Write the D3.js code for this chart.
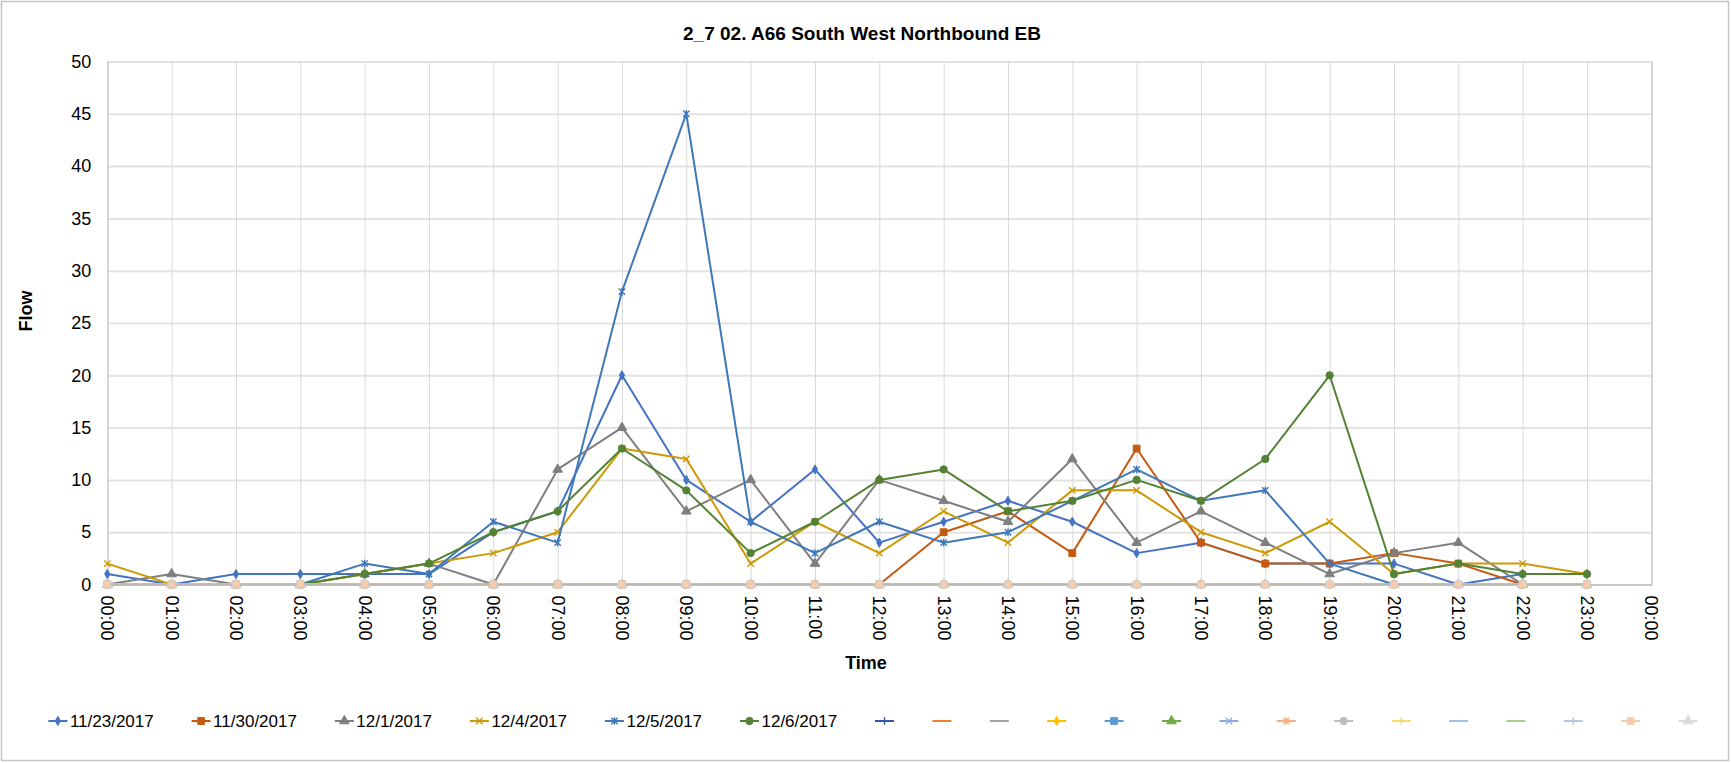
<!DOCTYPE html>
<html><head><meta charset="utf-8">
<script src="https://cdn.jsdelivr.net/npm/d3@7"></script>
<style>
html,body{margin:0;padding:0;background:#fff;}
svg{display:block;font-family:"Liberation Sans",Arial,sans-serif;}
</style></head><body>
<svg id="chart" width="1731" height="763"></svg>
<script>
// ---------- DATA ----------
const chartTitle = "2_7 02. A66 South West Northbound EB";
const categories = ["00:00","01:00","02:00","03:00","04:00","05:00","06:00","07:00","08:00","09:00","10:00","11:00",
                    "12:00","13:00","14:00","15:00","16:00","17:00","18:00","19:00","20:00","21:00","22:00","23:00"];
const xTickLabels = ["00:00","01:00","02:00","03:00","04:00","05:00","06:00","07:00","08:00","09:00","10:00","11:00",
                     "12:00","13:00","14:00","15:00","16:00","17:00","18:00","19:00","20:00","21:00","22:00","23:00","00:00"];
const yTicks = [0,5,10,15,20,25,30,35,40,45,50];

const seriesNames = ["11/23/2017","11/30/2017","12/1/2017","12/4/2017","12/5/2017","12/6/2017"];
const flow_11_23 = [1,0,1,1,1,1,5,7,20,10,6,11,4,6,8,6,3,4,2,2,2,0,1,1];
const flow_11_30 = [0,0,0,0,0,0,0,0,0,0,0,0,0,5,7,3,13,4,2,2,3,2,0,0];
const flow_12_01 = [0,1,0,0,1,2,0,11,15,7,10,2,10,8,6,12,4,7,4,1,3,4,0,0];
const flow_12_04 = [2,0,0,0,1,2,3,5,13,12,2,6,3,7,4,9,9,5,3,6,1,2,2,1];
const flow_12_05 = [0,0,0,0,2,1,6,4,28,45,6,3,6,4,5,8,11,8,9,2,0,0,0,0];
const flow_12_06 = [0,0,0,0,1,2,5,7,13,9,3,6,10,11,7,8,10,8,12,20,1,2,1,1];
// 15 unnamed series, all flat at zero
const unnamedFlow = [0,0,0,0,0,0,0,0,0,0,0,0,0,0,0,0,0,0,0,0,0,0,0,0];
const unnamedCount = 15;

// ---------- STYLES ----------
const namedColors  = ["#4472C4","#C55A11","#7F7F7F","#CC9A06","#3F78B8","#548235"];
const namedMarkers = ["diamond","square","triangle","x","star","circle"];
const unnamedColors  = ["#3556A8","#ED7D31","#A5A5A5","#FFC000","#5B9BD5","#70AD47","#8FAADC","#F4B183",
                        "#BDBDBD","#FFD966","#9DC3E6","#A9D18E","#B4C7E7","#F8CBAD","#D9D9D9"];
const unnamedMarkers = ["plus","dash","dash","diamond","square","triangle","x","star",
                        "circle","plus","dash","dash","plus","square","triangle"];

const values = [flow_11_23, flow_11_30, flow_12_01, flow_12_04, flow_12_05, flow_12_06];
const series = [];
seriesNames.forEach((n,i)=>series.push({name:n, values:values[i], color:namedColors[i], marker:namedMarkers[i]}));
for (let i=0;i<unnamedCount;i++) series.push({name:"", values:unnamedFlow, color:unnamedColors[i], marker:unnamedMarkers[i]});

// ---------- LAYOUT ----------
const svg = d3.select("#chart");
const W = 1731, H = 763;
const x = d3.scaleLinear().domain([0,24]).range([107.3,1651.3]);
const y = d3.scaleLinear().domain([0,50]).range([584.5,61.5]);

svg.append("rect").attr("x",1.5).attr("y",1.5).attr("width",W-4).attr("height",H-4)
  .attr("fill","#fff").attr("stroke","#C4C4C4").attr("stroke-width",1.5);

// title
svg.append("text").attr("x",862).attr("y",39.5).attr("text-anchor","middle")
  .attr("font-size",19).attr("font-weight","bold").attr("fill","#000").text(chartTitle);

// y axis + horizontal grid
const gy = svg.append("g").attr("transform",`translate(${x(0)},0)`)
  .call(d3.axisLeft(y).tickValues(yTicks).tickSize(-(x(24)-x(0))).tickPadding(16).tickFormat(d=>d));
gy.select(".domain").remove();
gy.selectAll(".tick line").attr("stroke","#E3E3E3").attr("stroke-width",2);
gy.selectAll(".tick text").attr("font-size",18).attr("fill","#000")
  .attr("font-family","'Liberation Sans',Arial,sans-serif");

// x axis + vertical grid
const gx = svg.append("g").attr("transform",`translate(0,${y(0)})`)
  .call(d3.axisBottom(x).tickValues(d3.range(25)).tickSize(-(y(0)-y(50))).tickFormat(i=>xTickLabels[i]));
gx.select(".domain").attr("stroke","#BFBFBF").attr("stroke-width",1.5);
gx.selectAll(".tick line").attr("stroke","#D9D9D9").attr("stroke-width",1);
gx.selectAll(".tick text").attr("font-size",18).attr("fill","#000")
  .attr("font-family","'Liberation Sans',Arial,sans-serif")
  .attr("transform","rotate(90)").attr("x",11).attr("y",0).attr("dy","0.35em").attr("text-anchor","start");

// axis titles
svg.append("text").attr("transform","translate(32,311) rotate(-90)").attr("text-anchor","middle")
  .attr("font-size",18).attr("font-weight","bold").attr("fill","#000").text("Flow");
svg.append("text").attr("x",866).attr("y",669).attr("text-anchor","middle")
  .attr("font-size",18).attr("font-weight","bold").attr("fill","#000").text("Time");

// marker helper
function markerPath(type){
  switch(type){
    case "diamond": return {d:d3.symbol(d3.symbolDiamond,24)(), fill:true};
    case "square": return {d:d3.symbol(d3.symbolSquare,46)(), fill:true};
    case "triangle": return {d:d3.symbol(d3.symbolTriangle,40)(), fill:true};
    case "circle": return {d:d3.symbol(d3.symbolCircle,42)(), fill:true};
    case "x": return {d:"M-3.2,-3.2L3.2,3.2M-3.2,3.2L3.2,-3.2", fill:false};
    case "star": return {d:"M-3.2,-3.2L3.2,3.2M-3.2,3.2L3.2,-3.2M0,-3.8L0,3.8", fill:false};
    case "plus": return {d:"M-3.8,0L3.8,0M0,-3.8L0,3.8", fill:false};
    case "dash": return {d:"M-3.5,0L3.5,0", fill:false};
  }
}
function drawMarker(g, type, color, stroke){
  const m = markerPath(type);
  g.append("path").attr("d",m.d)
    .attr("fill", m.fill ? color : "none")
    .attr("stroke", stroke || color).attr("stroke-width", m.fill ? 1 : 1.4);
}

const line = d3.line().x((d,i)=>x(i)).y(d=>y(d));
const plot = svg.append("g");

// named series (drawn first)
series.slice(0,6).forEach(s=>{
  const g = plot.append("g");
  g.append("path").datum(s.values).attr("d",line).attr("fill","none")
    .attr("stroke",s.color).attr("stroke-width",2).attr("stroke-linejoin","round");
  s.values.forEach((v,i)=>{
    const mg = g.append("g").attr("transform",`translate(${x(i)},${y(v)})`);
    drawMarker(mg, s.marker, s.color);
  });
});

// unnamed zero series: lines, then a shared grey baseline tone, then markers (square series on top)
const zeroSeries = series.slice(6);
zeroSeries.forEach(s=>{
  plot.append("path").datum(s.values).attr("d",line).attr("fill","none")
    .attr("stroke",s.color).attr("stroke-width",2);
});
plot.append("path").datum(unnamedFlow).attr("d",line).attr("fill","none")
  .attr("stroke","#BDB7B0").attr("stroke-width",2.6);
const drawOrder = d3.range(zeroSeries.length).filter(i=>zeroSeries[i].marker!=="square").concat(
                  d3.range(zeroSeries.length).filter(i=>zeroSeries[i].marker==="square"));
drawOrder.forEach(k=>{
  const s = zeroSeries[k];
  s.values.forEach((v,i)=>{
    const mg = plot.append("g").attr("transform",`translate(${x(i)},${y(v)})`);
    drawMarker(mg, s.marker, s.color, s.marker==="square" ? "#D6CFCB" : null);
  });
});

// legend
const legend = svg.append("g");
const legendY = 721;
const measure = svg.append("text").attr("font-size",17);
const widths = series.map(s=>{ measure.text(s.name); return s.name ? measure.node().getComputedTextLength()+2 : 0; });
measure.remove();
const step = 57.4;
const total = widths.reduce((a,b)=>a+b,0) + step*(series.length-1);
let cx = 873 - total/2;
series.forEach((s,i)=>{
  const g = legend.append("g").attr("transform",`translate(${cx},${legendY})`);
  g.append("line").attr("x1",-9.5).attr("x2",9.5).attr("y1",0).attr("y2",0)
    .attr("stroke",s.color).attr("stroke-width",2);
  drawMarker(g, s.marker, s.color);
  if (s.name) g.append("text").attr("x",12).attr("y",0).attr("dy","0.35em")
    .attr("font-size",17).attr("fill","#000").text(s.name);
  cx += step + widths[i];
});
</script>
</body></html>
